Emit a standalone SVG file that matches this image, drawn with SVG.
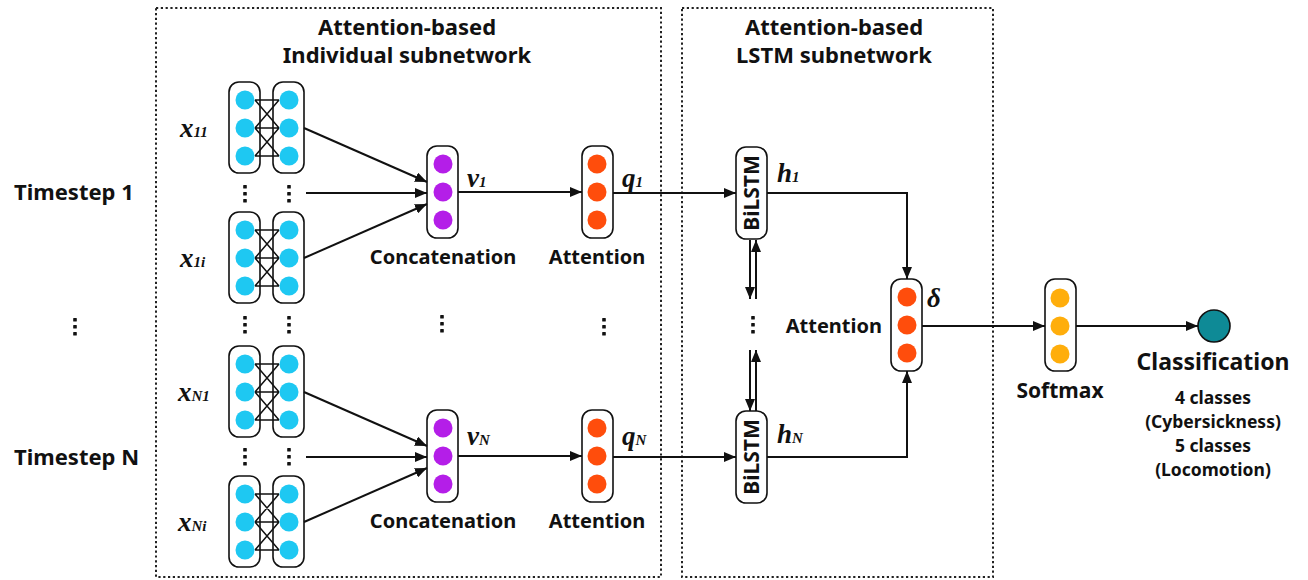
<svg xmlns="http://www.w3.org/2000/svg" width="1308" height="580" viewBox="0 0 1308 580">
  <defs>
    <style>
      .frame { fill: none; stroke: #222; stroke-width: 2; stroke-dasharray: 2.2 2.6; }
      .pill { fill: #fff; stroke: #111; stroke-width: 1.6; }
      .cy { fill: #1ec8f2; }
      .pu { fill: #b41ee8; }
      .or { fill: #ff4d0c; }
      .ye { fill: #ffae0c; }
      .wire { fill: none; stroke: #111; stroke-width: 2; }
      .thin { fill: none; stroke: #111; stroke-width: 1.5; }
      .dot { fill: #111; }
      .lbl { font-family: "Noto Sans", "Liberation Sans", sans-serif; font-weight: 700; fill: #111; }
      .m { font-family: "Liberation Serif", "Times New Roman", serif; font-weight: 700; font-style: italic; font-size: 27px; fill: #111; }
      .sub { font-size: 15px; }
    </style>
    <marker id="ah" viewBox="0 0 12 10" refX="12" refY="5" markerWidth="12" markerHeight="10" markerUnits="userSpaceOnUse" orient="auto">
      <path d="M0,0 L12,5 L0,10 Z" fill="#111"/>
    </marker>
    <!-- one fully connected pair of input columns -->
    <g id="pair">
      <rect class="pill" x="229" y="0" width="31" height="91" rx="10"/>
      <rect class="pill" x="273" y="0" width="31" height="91" rx="10"/>
      <path class="thin" d="M255,18 H279 M255,46 H279 M255,74 H279 M255,18 L279,46 M255,46 L279,18 M255,46 L279,74 M255,74 L279,46"/>
      <circle class="cy" cx="245" cy="18" r="9.5"/>
      <circle class="cy" cx="245" cy="46" r="9.5"/>
      <circle class="cy" cx="245" cy="74" r="9.5"/>
      <circle class="cy" cx="289" cy="18" r="9.5"/>
      <circle class="cy" cx="289" cy="46" r="9.5"/>
      <circle class="cy" cx="289" cy="74" r="9.5"/>
    </g>
    <g id="vdots">
      <rect class="dot" x="-1.8" y="0" width="3.6" height="3.6" rx="0.6"/>
      <rect class="dot" x="-1.8" y="7" width="3.6" height="3.6" rx="0.6"/>
      <rect class="dot" x="-1.8" y="14" width="3.6" height="3.6" rx="0.6"/>
    </g>
  </defs>

  <rect width="1308" height="580" fill="#fff"/>

  <!-- subnetwork frames -->
  <g id="frames">
    <rect class="frame" x="156" y="8" width="505" height="569"/>
    <rect class="frame" x="682" y="8" width="311" height="569"/>
    <text class="lbl" x="407" y="35" font-size="22" text-anchor="middle">Attention-based</text>
    <text class="lbl" x="407" y="63" font-size="22" text-anchor="middle">Individual subnetwork</text>
    <text class="lbl" x="834" y="35" font-size="22" text-anchor="middle">Attention-based</text>
    <text class="lbl" x="834" y="63" font-size="22" text-anchor="middle">LSTM subnetwork</text>
  </g>

  <!-- timestep labels -->
  <g id="timesteps">
    <text class="lbl" x="14" y="200" font-size="22">Timestep 1</text>
    <use href="#vdots" x="75" y="318"/>
    <text class="lbl" x="14" y="465" font-size="22">Timestep N</text>
  </g>

  <!-- input feature pairs -->
  <g id="input-x11">
    <use href="#pair" y="82"/>
    <text class="m" x="180" y="137">x<tspan class="sub">11</tspan></text>
  </g>
  <g id="input-x1i">
    <use href="#pair" y="212"/>
    <text class="m" x="180" y="267">x<tspan class="sub">1i</tspan></text>
  </g>
  <g id="input-xN1">
    <use href="#pair" y="346"/>
    <text class="m" x="178" y="401">x<tspan class="sub">N1</tspan></text>
  </g>
  <g id="input-xNi">
    <use href="#pair" y="476"/>
    <text class="m" x="178" y="531">x<tspan class="sub">Ni</tspan></text>
  </g>
  <g id="input-dots">
    <use href="#vdots" x="245" y="185"/>
    <use href="#vdots" x="289" y="185"/>
    <use href="#vdots" x="245" y="316"/>
    <use href="#vdots" x="289" y="316"/>
    <use href="#vdots" x="245" y="448"/>
    <use href="#vdots" x="289" y="448"/>
  </g>

  <!-- concatenation nodes -->
  <g id="concat-1">
    <rect class="pill" x="427" y="146" width="31" height="92" rx="10"/>
    <circle class="pu" cx="443" cy="164" r="9.5"/>
    <circle class="pu" cx="443" cy="192" r="9.5"/>
    <circle class="pu" cx="443" cy="220" r="9.5"/>
    <text class="m" x="467" y="187">v<tspan class="sub">1</tspan></text>
    <text class="lbl" x="443" y="264" font-size="20" text-anchor="middle">Concatenation</text>
  </g>
  <g id="concat-N">
    <rect class="pill" x="427" y="410" width="31" height="92" rx="10"/>
    <circle class="pu" cx="443" cy="428" r="9.5"/>
    <circle class="pu" cx="443" cy="456" r="9.5"/>
    <circle class="pu" cx="443" cy="484" r="9.5"/>
    <text class="m" x="467" y="445">v<tspan class="sub">N</tspan></text>
    <text class="lbl" x="443" y="528" font-size="20" text-anchor="middle">Concatenation</text>
  </g>
  <use href="#vdots" x="442" y="315"/>

  <!-- attention nodes -->
  <g id="attention-1">
    <rect class="pill" x="582" y="146" width="31" height="92" rx="10"/>
    <circle class="or" cx="597" cy="164" r="9.5"/>
    <circle class="or" cx="597" cy="192" r="9.5"/>
    <circle class="or" cx="597" cy="220" r="9.5"/>
    <text class="m" x="622" y="187">q<tspan class="sub">1</tspan></text>
    <text class="lbl" x="597" y="264" font-size="20" text-anchor="middle">Attention</text>
  </g>
  <g id="attention-N">
    <rect class="pill" x="582" y="410" width="31" height="92" rx="10"/>
    <circle class="or" cx="597" cy="428" r="9.5"/>
    <circle class="or" cx="597" cy="456" r="9.5"/>
    <circle class="or" cx="597" cy="484" r="9.5"/>
    <text class="m" x="622" y="445">q<tspan class="sub">N</tspan></text>
    <text class="lbl" x="597" y="528" font-size="20" text-anchor="middle">Attention</text>
  </g>
  <use href="#vdots" x="604" y="318"/>

  <!-- BiLSTM cells -->
  <g id="bilstm-1">
    <rect class="pill" x="736" y="147" width="31" height="92" rx="10"/>
    <text class="lbl" font-size="21" text-anchor="middle" transform="translate(759,193) rotate(-90)">BiLSTM</text>
    <text class="m" x="777" y="182">h<tspan class="sub">1</tspan></text>
  </g>
  <g id="bilstm-N">
    <rect class="pill" x="736" y="411" width="31" height="92" rx="10"/>
    <text class="lbl" font-size="21" text-anchor="middle" transform="translate(759,457) rotate(-90)">BiLSTM</text>
    <text class="m" x="777" y="443">h<tspan class="sub">N</tspan></text>
  </g>
  <use href="#vdots" x="753" y="316"/>

  <!-- temporal attention -->
  <g id="attention-delta">
    <rect class="pill" x="891" y="279" width="31" height="92" rx="10"/>
    <circle class="or" cx="907" cy="297" r="9.5"/>
    <circle class="or" cx="907" cy="325" r="9.5"/>
    <circle class="or" cx="907" cy="353" r="9.5"/>
    <text class="m" x="927" y="307">δ</text>
    <text class="lbl" x="882" y="333" font-size="20" text-anchor="end">Attention</text>
  </g>

  <!-- softmax -->
  <g id="softmax">
    <rect class="pill" x="1045" y="279" width="31" height="92" rx="10"/>
    <circle class="ye" cx="1060" cy="298" r="9.5"/>
    <circle class="ye" cx="1060" cy="326" r="9.5"/>
    <circle class="ye" cx="1060" cy="354" r="9.5"/>
    <text class="lbl" x="1060" y="398" font-size="21" text-anchor="middle">Softmax</text>
  </g>

  <!-- output -->
  <g id="classification">
    <circle cx="1214" cy="326" r="16" fill="#0e8a96" stroke="#111" stroke-width="1.6"/>
    <text class="lbl" x="1213" y="370" font-size="23" text-anchor="middle">Classification</text>
    <text class="lbl" x="1213" y="404" font-size="17.5" text-anchor="middle">4 classes</text>
    <text class="lbl" x="1213" y="428" font-size="17.5" text-anchor="middle">(Cybersickness)</text>
    <text class="lbl" x="1213" y="452" font-size="17.5" text-anchor="middle">5 classes</text>
    <text class="lbl" x="1213" y="476" font-size="17.5" text-anchor="middle">(Locomotion)</text>
  </g>

  <!-- connectors -->
  <g id="connectors">
    <line class="wire" x1="304" y1="128" x2="427" y2="182" marker-end="url(#ah)"/>
    <line class="wire" x1="306" y1="193" x2="427" y2="193" marker-end="url(#ah)"/>
    <line class="wire" x1="304" y1="258" x2="427" y2="204" marker-end="url(#ah)"/>
    <line class="wire" x1="304" y1="392" x2="427" y2="446" marker-end="url(#ah)"/>
    <line class="wire" x1="306" y1="457" x2="427" y2="457" marker-end="url(#ah)"/>
    <line class="wire" x1="304" y1="522" x2="427" y2="468" marker-end="url(#ah)"/>
    <line class="wire" x1="458" y1="192" x2="582" y2="192" marker-end="url(#ah)"/>
    <line class="wire" x1="458" y1="456" x2="582" y2="456" marker-end="url(#ah)"/>
    <line class="wire" x1="613" y1="193" x2="736" y2="193" marker-end="url(#ah)"/>
    <line class="wire" x1="613" y1="457" x2="736" y2="457" marker-end="url(#ah)"/>
    <!-- recurrent links between cells -->
    <line class="wire" x1="750" y1="240" x2="750" y2="299" marker-end="url(#ah)"/>
    <line class="wire" x1="756" y1="299" x2="756" y2="240" marker-end="url(#ah)"/>
    <line class="wire" x1="750" y1="350" x2="750" y2="411" marker-end="url(#ah)"/>
    <line class="wire" x1="756" y1="411" x2="756" y2="350" marker-end="url(#ah)"/>
    <path class="wire" d="M767,193 H907 V279" marker-end="url(#ah)"/>
    <path class="wire" d="M767,457 H907 V371" marker-end="url(#ah)"/>
    <line class="wire" x1="922" y1="326" x2="1045" y2="326" marker-end="url(#ah)"/>
    <line class="wire" x1="1076" y1="326" x2="1198" y2="326" marker-end="url(#ah)"/>
  </g>
</svg>
